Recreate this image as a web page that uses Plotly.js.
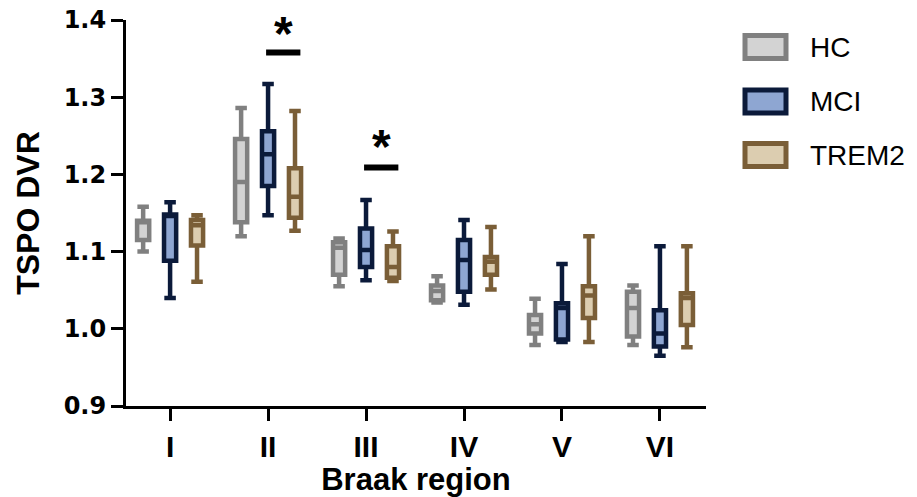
<!DOCTYPE html>
<html>
<head>
<meta charset="utf-8">
<script src="https://cdn.plot.ly/plotly-3.0.1.min.js"></script>
<style>html,body{margin:0;padding:0;background:#fff;}#chart{width:917px;height:497px;}</style>
</head>
<body>
<div id="chart"></div>
<script>
// ---- data ----
var categories = ["I", "II", "III", "IV", "V", "VI"];
var seriesNames = ["HC", "MCI", "TREM2"];

var hcLower  = [1.100, 1.120, 1.055, 1.034, 0.979, 0.979];
var hcQ1     = [1.115, 1.138, 1.070, 1.037, 0.994, 0.990];
var hcMedian = [1.138, 1.190, 1.105, 1.049, 1.006, 1.027];
var hcQ3     = [1.140, 1.246, 1.112, 1.056, 1.018, 1.048];
var hcUpper  = [1.158, 1.286, 1.117, 1.068, 1.039, 1.056];

var mciLower  = [1.040, 1.147, 1.063, 1.031, 0.983, 0.965];
var mciQ1     = [1.088, 1.185, 1.080, 1.048, 0.986, 0.977];
var mciMedian = [1.146, 1.226, 1.102, 1.089, 1.027, 0.994];
var mciQ3     = [1.148, 1.256, 1.130, 1.115, 1.033, 1.024];
var mciUpper  = [1.164, 1.317, 1.167, 1.141, 1.084, 1.107];

var tremLower  = [1.061, 1.127, 1.062, 1.051, 0.983, 0.976];
var tremQ1     = [1.108, 1.144, 1.066, 1.070, 1.014, 1.005];
var tremMedian = [1.134, 1.171, 1.080, 1.087, 1.043, 1.040];
var tremQ3     = [1.141, 1.208, 1.107, 1.093, 1.055, 1.046];
var tremUpper  = [1.147, 1.282, 1.126, 1.132, 1.120, 1.107];

var yTicks = [0.9, 1.0, 1.1, 1.2, 1.3, 1.4];
// significance marks: category, bar height, star height
var sigCategories = ["II", "III"];
var sigBarY  = [1.358, 1.209];
var sigStarY = [1.382, 1.236];

// ---- styles ----
var lineColors = ["#808080", "#0b1a3a", "#7a5e37"];
var fillColors = ["#d3d3d3", "#8ea6d2", "#dccdb0"];
var FONT = "Arial, 'Liberation Sans', sans-serif";
var WIDEFONT = "'DejaVu Sans', Arial, sans-serif";

var stats = [
  [hcLower, hcQ1, hcMedian, hcQ3, hcUpper],
  [mciLower, mciQ1, mciMedian, mciQ3, mciUpper],
  [tremLower, tremQ1, tremMedian, tremQ3, tremUpper]
];

var traces = stats.map(function (s, i) {
  return {
    type: "box",
    name: seriesNames[i],
    x: categories,
    lowerfence: s[0], q1: s[1], median: s[2], q3: s[3], upperfence: s[4],
    boxpoints: false,
    whiskerwidth: 0.95,
    line: {color: lineColors[i], width: 4.5},
    fillcolor: fillColors[i],
    hoverinfo: "skip",
    showlegend: false
  };
});

// plot area in pixels (for legend placement in paper coords)
var W = 917, H = 497, ML = 126, MR = 211, MT = 20, MB = 91;
var PW = W - ML - MR, PH = H - MT - MB;
function px2x(px) { return (px - ML) / PW; }
function py2y(py) { return (H - MB - py) / PH; }

var shapes = [];
var annotations = [];

// significance bars and stars
sigCategories.forEach(function (c, k) {
  var idx = categories.indexOf(c);
  shapes.push({type: "line", xref: "x", yref: "y",
    x0: idx - 0.02, x1: idx + 0.33, y0: sigBarY[k], y1: sigBarY[k],
    line: {color: "#000", width: 6}});
  annotations.push({xref: "x", yref: "y", x: idx + 0.16, y: sigStarY[k],
    text: "<b>*</b>", showarrow: false, xanchor: "center", yanchor: "middle",
    font: {family: FONT, size: 48, color: "#000"}});
});

// legend (drawn manually to match large swatches)
var legendCenters = [47, 101.5, 155];
seriesNames.forEach(function (n, i) {
  var cy = legendCenters[i];
  shapes.push({type: "rect", xref: "paper", yref: "paper",
    x0: px2x(745), x1: px2x(786), y0: py2y(cy + 11.5), y1: py2y(cy - 11.5),
    fillcolor: fillColors[i], line: {color: lineColors[i], width: 5}});
  annotations.push({xref: "paper", yref: "paper", x: px2x(808), y: py2y(cy),
    text: n, showarrow: false, xanchor: "left", yanchor: "middle",
    font: {family: FONT, size: 28, color: "#000"}});
});

var layout = {
  width: W, height: H,
  margin: {l: ML, r: MR, t: MT, b: MB, pad: 0},
  paper_bgcolor: "#fff", plot_bgcolor: "#fff",
  boxmode: "group", boxgap: 0.175, boxgroupgap: 0.55,
  showlegend: false,
  font: {family: FONT, color: "#000"},
  xaxis: {
    type: "category", range: [-0.45, 5.47],
    showline: true, linecolor: "#000", linewidth: 3,
    ticks: "outside", ticklen: 12, tickwidth: 3, tickcolor: "#000",
    showgrid: false, zeroline: false, automargin: false,
    tickfont: {family: FONT, size: 30, weight: "bold", color: "#000"},
    title: {text: "Braak region", standoff: 5,
      font: {family: FONT, size: 31, weight: "bold", color: "#000"}}
  },
  yaxis: {
    range: [0.9, 1.4], tickvals: yTicks, tickformat: ".1f",
    showline: true, linecolor: "#000", linewidth: 3,
    ticks: "outside", ticklen: 12, tickwidth: 3, tickcolor: "#000",
    showgrid: false, zeroline: false, automargin: false,
    tickfont: {family: WIDEFONT, size: 24, weight: "bold", color: "#000"},
    title: {text: "TSPO DVR", standoff: 15,
      font: {family: FONT, size: 32, weight: "bold", color: "#000"}}
  },
  shapes: shapes,
  annotations: annotations
};

Plotly.newPlot("chart", traces, layout, {displayModeBar: false, staticPlot: true});
</script>
</body>
</html>
